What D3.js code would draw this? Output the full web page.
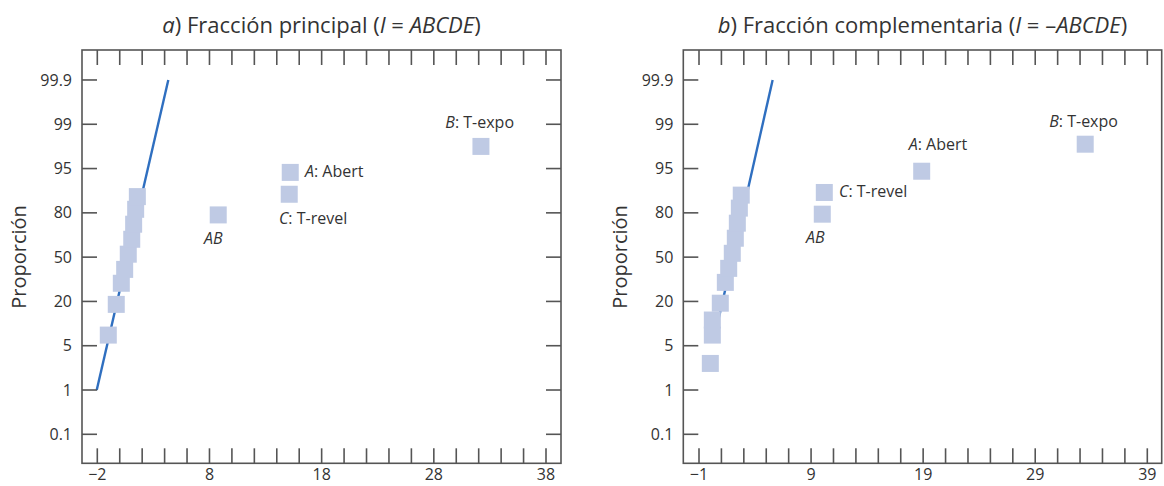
<!DOCTYPE html>
<html><head><meta charset="utf-8">
<script src="https://cdn.jsdelivr.net/npm/d3@7"></script>
<style>
body{margin:0;background:#fff;}
text{font-family:"Open Sans","Noto Sans",sans-serif;fill:#333;}
</style></head>
<body><svg id="c" width="1164" height="486"></svg>
<script>
// ---- data ----
const yTickValues = [0.1, 1, 5, 20, 50, 80, 95, 99, 99.9];
const yTickLabels = ["0.1", "1", "5", "20", "50", "80", "95", "99", "99.9"];
const xTicksA = [-2, 8, 18, 28, 38];
const xTicksB = [-1, 9, 19, 29, 39];

// Panel a: principal fraction
const effA_x = [-1.02, -0.31, 0.14, 0.44, 0.76, 1.07, 1.24, 1.42, 1.57, 8.78, 15.11, 15.2, 32.2];
const effA_p = [8.6, 19.0, 32.3, 41.7, 52.0, 62.1, 72.3, 81.2, 85.5, 78.6, 86.3, 93.7, 97.0];
const lineA_x = [-2.05, 4.33];
const lineA_p = [1, 99.9];
const labA_idx = [9, 10, 11, 12];
const labA_em = ["AB", "C", "A", "B"];
const labA_txt = ["", ": T-revel", ": Abert", ": T-expo"];

// Panel b: complementary fraction
const effB_x = [0.01, 0.19, 0.19, 0.90, 1.35, 1.65, 1.97, 2.24, 2.42, 2.60, 2.77, 10.0, 10.18, 18.87, 33.46];
const effB_p = [3.4, 8.6, 13.7, 19.4, 32.9, 42.4, 52.6, 62.8, 73.0, 81.6, 86.0, 79.1, 86.9, 94.1, 97.2];
const lineB_x = [0.30, 5.57];
const lineB_p = [6.5, 99.9];
const labB_idx = [11, 12, 13, 14];
const labB_em = ["AB", "C", "A", "B"];
const labB_txt = ["", ": T-revel", ": Abert", ": T-expo"];

// ---- layout ----
const svg = d3.select("#c");
const yTop = 50, yBot = 463.3;
const yScale = d3.scaleLinear()
  .domain(yTickValues)
  .range(yTickValues.map((d, i) => 434.3 - i * 44.29));

const panels = [
  {x0: 82, x1: 561, dom: [-2, 38], rng: [97.3, 546], ticks: xTicksA, ex: effA_x, ep: effA_p,
   lx: lineA_x, lp: lineA_p, li: labA_idx, lem: labA_em, ltx: labA_txt,
   off: [[-5, 29, "middle"], [-10.3, 29.7, "start"], [14.7, 5, "start"], [-35.6, -18, "start"]],
   rightTicks: true, ylabX: 19,
   title: [["a", true], [") Fracción principal (", false], ["I", true], [" = ", false], ["ABCDE", true], [")", false]]},
  {x0: 683.3, x1: 1161.7, dom: [-1, 39], rng: [699, 1147.3], ticks: xTicksB, ex: effB_x, ep: effB_p,
   lx: lineB_x, lp: lineB_p, li: labB_idx, lem: labB_em, ltx: labB_txt,
   off: [[-16.3, 29, "start"], [14.7, 4.2, "start"], [-13, -21.3, "start"], [-36, -17, "start"]],
   rightTicks: false, ylabX: 620,
   title: [["b", true], [") Fracción complementaria (", false], ["I", true], [" = –", false], ["ABCDE", true], [")", false]]}
];

const frameColor = "#555";
panels.forEach(P => {
  const x = d3.scaleLinear().domain(P.dom).range(P.rng);
  const g = svg.append("g");

  // line
  g.append("line")
    .attr("x1", x(P.lx[0])).attr("y1", yScale(P.lp[0]))
    .attr("x2", x(P.lx[1])).attr("y2", yScale(P.lp[1]))
    .attr("stroke", "#2f6fc0").attr("stroke-width", 2.4);

  // squares
  const s = 17;
  g.selectAll("rect.pt").data(P.ex.map((d, i) => [d, P.ep[i]])).enter()
    .append("rect").attr("class", "pt")
    .attr("x", d => x(d[0]) - s / 2).attr("y", d => yScale(d[1]) - s / 2)
    .attr("width", s).attr("height", s).attr("fill", "#bfcae4");

  // labels
  P.li.forEach((idx, k) => {
    const px = x(P.ex[idx]) + P.off[k][0], py = yScale(P.ep[idx]) + P.off[k][1];
    const t = g.append("text").attr("x", px).attr("y", py).attr("text-anchor", P.off[k][2])
      .attr("font-size", 16);
    t.append("tspan").attr("font-style", "italic").text(P.lem[k]);
    if (P.ltx[k]) t.append("tspan").text(P.ltx[k]);
  });

  // frame
  g.append("rect").attr("x", P.x0).attr("y", yTop).attr("width", P.x1 - P.x0).attr("height", yBot - yTop)
    .attr("fill", "none").attr("stroke", frameColor).attr("stroke-width", 1.6);

  // x ticks (every 2 units)
  const minor = d3.range(P.dom[0], P.dom[1] + 0.001, 2);
  g.selectAll("line.xb").data(minor).enter().append("line")
    .attr("x1", d => x(d)).attr("x2", d => x(d)).attr("y1", yBot).attr("y2", yBot - 15)
    .attr("stroke", frameColor).attr("stroke-width", 1.6);
  g.selectAll("line.xt").data(minor).enter().append("line")
    .attr("x1", d => x(d)).attr("x2", d => x(d)).attr("y1", yTop).attr("y2", yTop + 15)
    .attr("stroke", frameColor).attr("stroke-width", 1.6);
  g.selectAll("text.xl").data(P.ticks).enter().append("text")
    .attr("x", d => x(d)).attr("y", 480).attr("text-anchor", "middle").attr("font-size", 16)
    .text(d => d < 0 ? "\u2212" + Math.abs(d) : d);

  // y ticks
  g.selectAll("line.yl").data(yTickValues).enter().append("line")
    .attr("x1", P.x0).attr("x2", P.x0 + 15).attr("y1", d => yScale(d)).attr("y2", d => yScale(d))
    .attr("stroke", frameColor).attr("stroke-width", 1.6);
  if (P.rightTicks) {
    g.selectAll("line.yr").data(yTickValues).enter().append("line")
      .attr("x1", P.x1).attr("x2", P.x1 - 15).attr("y1", d => yScale(d)).attr("y2", d => yScale(d))
      .attr("stroke", frameColor).attr("stroke-width", 1.6);
  }
  g.selectAll("text.yt").data(yTickValues).enter().append("text")
    .attr("x", P.x0 - 10).attr("y", d => yScale(d)).attr("dy", "0.35em")
    .attr("text-anchor", "end").attr("font-size", 16)
    .text((d, i) => yTickLabels[i]);

  // y axis title
  g.append("text").attr("transform", `translate(${P.ylabX + 7},257) rotate(-90)`)
    .attr("text-anchor", "middle").attr("font-size", 20).text("Proporción");

  // title
  const tt = g.append("text").attr("x", (P.x0 + P.x1) / 2).attr("y", 33)
    .attr("text-anchor", "middle").attr("font-size", 22);
  P.title.forEach(([s2, it]) => {
    const sp = tt.append("tspan").text(s2);
    if (it) sp.attr("font-style", "italic");
  });
});
</script></body></html>
